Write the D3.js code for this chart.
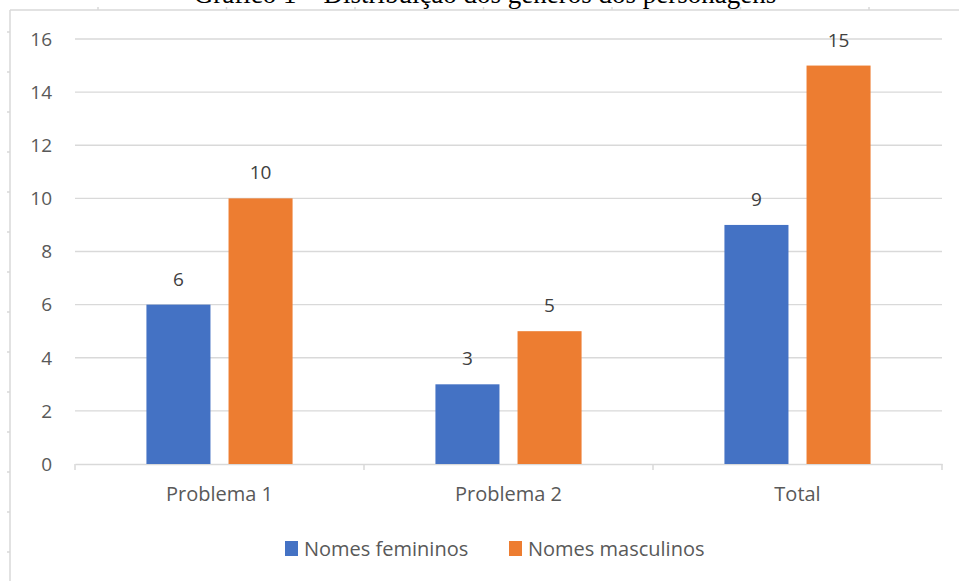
<!DOCTYPE html>
<html>
<head>
<meta charset="utf-8">
<script src="https://cdn.jsdelivr.net/npm/d3@7"></script>
<style>
  body { margin: 0; background: #fff; }
  svg { display: block; }
</style>
</head>
<body>
<svg id="chart"></svg>
<script>
// data
const categories = ["Problema 1", "Problema 2", "Total"];
const seriesNames = ["Nomes femininos", "Nomes masculinos"];
const femininos = [6, 3, 9];
const masculinos = [10, 5, 15];
const yTicks = [0, 2, 4, 6, 8, 10, 12, 14, 16];
const title = "Gráfico 1 – Distribuição dos gêneros dos personagens";

const colors = ["#4472c4", "#ed7d31"];
const width = 959;
const height = 581;
const font = "'Open Sans', sans-serif";
const textColor = "#595959";
const lineColor = "#d9d9d9";

const svg = d3.select("#chart").attr("width", width).attr("height", height);

// clipped caption from the document above the chart
svg.append("text")
  .attr("x", 485)
  .attr("y", 3)
  .attr("text-anchor", "middle")
  .attr("font-family", "'Liberation Serif', serif")
  .attr("font-size", 27)
  .attr("fill", "#000")
  .text(title);

// chart frame (top + left edges visible)
const frame = svg.append("g").attr("stroke", lineColor).attr("stroke-width", 1.5);
frame.append("line").attr("x1", 10).attr("x2", width).attr("y1", 10).attr("y2", 10);
frame.append("line").attr("x1", 10).attr("x2", 10).attr("y1", 10).attr("y2", height);
d3.range(98, width, 128.5).forEach((x) => {
  frame.append("line").attr("x1", x).attr("x2", x).attr("y1", 7).attr("y2", 10);
});
d3.range(32, height, 40).forEach((y) => {
  frame.append("line").attr("x1", 7).attr("x2", 10).attr("y1", y).attr("y2", y);
});

// scales
const x0 = d3.scaleBand().domain(categories).range([75, 942]).paddingInner(0).paddingOuter(0);
const x1 = d3.scaleBand().domain(seriesNames).range([0, x0.bandwidth()])
  .paddingInner(0.22).paddingOuter(0.87);
const y = d3.scaleLinear().domain([0, 16]).range([464, 39]);

// gridlines
svg.append("g")
  .selectAll("line")
  .data(yTicks.filter((d) => d > 0))
  .enter()
  .append("line")
  .attr("x1", 75)
  .attr("x2", 942)
  .attr("y1", (d) => y(d))
  .attr("y2", (d) => y(d))
  .attr("stroke", lineColor)
  .attr("stroke-width", 1.3);

// y labels
svg.append("g")
  .selectAll("text")
  .data(yTicks)
  .enter()
  .append("text")
  .attr("x", 52)
  .attr("y", (d) => y(d))
  .attr("dy", "0.36em")
  .attr("text-anchor", "end")
  .attr("font-family", font)
  .attr("font-size", 19)
  .attr("fill", textColor)
  .text((d) => d);

// x axis
const xAxis = svg.append("g").attr("transform", `translate(0,${y(0)})`)
  .call(d3.axisBottom(x0).tickSize(0).tickFormat(""));
xAxis.select(".domain").attr("stroke", lineColor).attr("stroke-width", 1.5);
const bounds = categories.map((c) => x0(c)).concat([x0.range()[1]]);
xAxis.selectAll(".sep")
  .data(bounds)
  .enter()
  .append("line")
  .attr("class", "sep")
  .attr("x1", (d) => d)
  .attr("x2", (d) => d)
  .attr("y1", 0)
  .attr("y2", 6)
  .attr("stroke", lineColor)
  .attr("stroke-width", 1.5);

svg.append("g")
  .selectAll("text")
  .data(categories)
  .enter()
  .append("text")
  .attr("x", (d) => x0(d) + x0.bandwidth() / 2)
  .attr("y", 501)
  .attr("text-anchor", "middle")
  .attr("font-family", font)
  .attr("font-size", 20)
  .attr("fill", textColor)
  .text((d) => d);

// bars
const rows = categories.map((c, i) => ({
  cat: c,
  vals: [
    { s: seriesNames[0], v: femininos[i], c: colors[0] },
    { s: seriesNames[1], v: masculinos[i], c: colors[1] },
  ],
}));

const groups = svg.append("g")
  .selectAll("g")
  .data(rows)
  .enter()
  .append("g")
  .attr("transform", (d) => `translate(${x0(d.cat)},0)`);

groups.selectAll("rect")
  .data((d) => d.vals)
  .enter()
  .append("rect")
  .attr("x", (d) => x1(d.s))
  .attr("width", x1.bandwidth())
  .attr("y", (d) => y(d.v))
  .attr("height", (d) => y(0) - y(d.v))
  .attr("fill", (d) => d.c);

groups.selectAll("text")
  .data((d) => d.vals)
  .enter()
  .append("text")
  .attr("x", (d) => x1(d.s) + x1.bandwidth() / 2)
  .attr("y", (d) => y(d.v) - 19)
  .attr("text-anchor", "middle")
  .attr("font-family", font)
  .attr("font-size", 19)
  .attr("fill", "#404040")
  .text((d) => d.v);

// legend
const legendX = [285, 509];
const legend = svg.append("g")
  .selectAll("g")
  .data(seriesNames)
  .enter()
  .append("g")
  .attr("transform", (d, i) => `translate(${legendX[i]},541)`);

legend.append("rect")
  .attr("width", 13)
  .attr("height", 15)
  .attr("fill", (d, i) => colors[i]);

legend.append("text")
  .attr("x", 19)
  .attr("y", 7.5)
  .attr("dy", "0.36em")
  .attr("font-family", font)
  .attr("font-size", 20)
  .attr("fill", textColor)
  .text((d) => d);
</script>
</body>
</html>
